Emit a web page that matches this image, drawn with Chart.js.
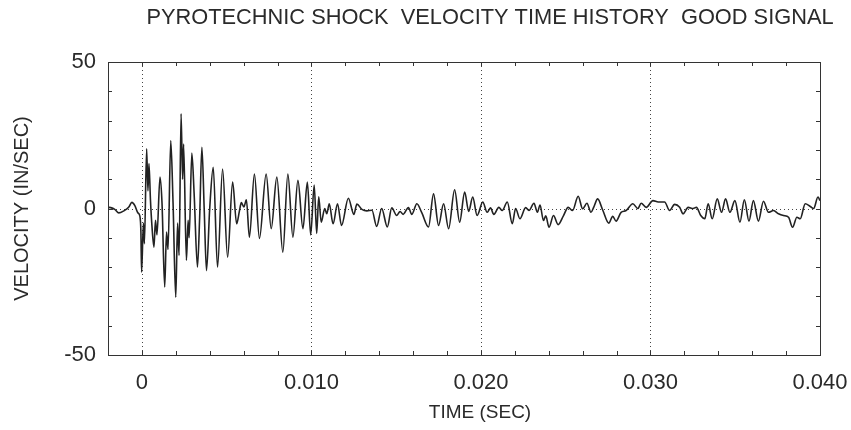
<!DOCTYPE html>
<html>
<head>
<meta charset="utf-8">
<script src="https://cdn.jsdelivr.net/npm/chart.js@4/dist/chart.umd.min.js"></script>
<style>
    html, body { margin: 0; padding: 0; background: #fff; }
    #wrap { width: 851px; height: 430px; }
</style>
</head>
<body>
<div id="wrap"><canvas id="grafico"></canvas></div>
<script>
// Tempo (s) e velocidade (in/sec)
const timeSec = [
    -0.002000, -0.001837, -0.001600, -0.001363, -0.001067, -0.000770, -0.000593, -0.000415, -0.000237, -0.000119,
    -0.000059, -0.000018, 0.000089, 0.000148, 0.000279, 0.000356, 0.000415, 0.000504, 0.000593, 0.000711,
    0.000800, 0.000889, 0.001067, 0.001185, 0.001345, 0.001452, 0.001541, 0.001701, 0.001837, 0.001997,
    0.002104, 0.002193, 0.002311, 0.002400, 0.002459, 0.002625, 0.002726, 0.002785, 0.002945, 0.003081,
    0.003277, 0.003407, 0.003538, 0.003674, 0.003810, 0.004000, 0.004207, 0.004462, 0.004759, 0.005055,
    0.005351, 0.005588, 0.005748, 0.005867, 0.006015, 0.006163, 0.006341, 0.006637, 0.006933, 0.007330,
    0.007627, 0.007959, 0.008314, 0.008610, 0.008907, 0.009203, 0.009499, 0.009760, 0.009956, 0.010163,
    0.010311, 0.010430, 0.010578, 0.010785, 0.010904, 0.011052, 0.011277, 0.011538, 0.011775, 0.012178,
    0.012504, 0.012681, 0.012978, 0.013274, 0.013570, 0.013849, 0.014145, 0.014477, 0.014738, 0.015034,
    0.015230, 0.015407, 0.015721, 0.015923, 0.016219, 0.016515, 0.016907, 0.017203, 0.017499, 0.017796,
    0.018092, 0.018447, 0.018744, 0.019040, 0.019277, 0.019514, 0.019775, 0.020107, 0.020367, 0.020563,
    0.020759, 0.021055, 0.021256, 0.021553, 0.021849, 0.022044, 0.022299, 0.022637, 0.022833, 0.023129,
    0.023330, 0.023485, 0.023686, 0.023822, 0.024018, 0.024278, 0.024551, 0.024871, 0.025144, 0.025404,
    0.025736, 0.025997, 0.026252, 0.026489, 0.026649, 0.026886, 0.027182, 0.027538, 0.027775, 0.027970,
    0.028267, 0.028563, 0.028960, 0.029256, 0.029452, 0.029748, 0.030145, 0.030459, 0.030833, 0.031129,
    0.031425, 0.031721, 0.031923, 0.032219, 0.032515, 0.032711, 0.032966, 0.033203, 0.033404, 0.033641,
    0.033938, 0.034193, 0.034430, 0.034685, 0.034981, 0.035277, 0.035538, 0.035810, 0.036071, 0.036367,
    0.036664, 0.036960, 0.037256, 0.037553, 0.037849, 0.038145, 0.038382, 0.038637, 0.038833, 0.039130,
    0.039425, 0.039627, 0.039881, 0.040000
];

const velocity = [
    0.4, 0.3, -0.3, -1.5, -0.8, 0.5, 2.1, 1.0, -1.5, -2.6,
    -8, -21.7, -5, -12, 20.4, 6, 15.3, 3, -6, -13.2,
    -4, -9, 10.7, 2, -26.8, -8, -14, 23.2, 2, -30.3,
    -5, -16, 32.3, 10, 22, -17.7, -4, -10, 18.9, 5,
    -20, -3, 20.9, 0, -21.2, 0, 14.1, -20, 13.5, -16.6,
    9, -5.2, -1, 2, 0.5, 3, -9.8, 11.8, -10.2, 11.8,
    -6.9, 10.7, -14.9, 11.8, -9.8, 9.6, -6.9, 9, -9, 8,
    -8.5, 4, -4.7, 0, -1.8, 1.6, -5.2, 1.6, -5.8, 3.5,
    -2, 1.5, -0.3, -0.8, -0.6, -6.1, 0, -6.3, 0.2, -2.4,
    -1, -2, 0.3, -2, 1.6, -1.5, -6.3, 5, -5.8, 1.6,
    -6.9, 6.4, -4.7, 5.6, -1, 3.9, -2.4, 2.2, -1.3, 0.2,
    -2, 0.4, -0.7, 2.2, -5.2, 0, -3.5, 0.3, -0.7, 1.8,
    -1.3, 1.2, -4.1, -2.5, -6.4, -2.4, -5.5, -2.4, 0.4, -0.7,
    4.2, -0.1, 1.8, -1.3, 0.4, 3.3, -0.5, -5, -2.7, -4.3,
    -1.3, -0.7, 1.6, 0, 1.8, 0.4, 2.7, 2.2, 2.2, -0.7,
    1.4, 0.4, -1.8, 0.4, 0, 0.4, -2.4, -3.5, 1.6, -3.5,
    3.3, -1.3, 3.3, -1.3, 2.7, -4.7, 3, -4.3, 2.7, -4.3,
    2.5, -1.3, -0.7, -1.8, -2.4, -3, -6.4, -3, -3.5, 1.6,
    0.7, 0, 3.9, 2.7
];

// Marcas dos eixos
const xTickValues = [0, 0.010, 0.020, 0.030, 0.040];
const xTickLabels = ['0', '0.010', '0.020', '0.030', '0.040'];
const yTickValues = [-50, 0, 50];
const yTickLabels = ['-50', '0', '50'];
const xGridValues = [0, 0.010, 0.020, 0.030];
const yGridValues = [0];

const fonte = "'Liberation Sans', Arial, sans-serif";
const corTexto = '#2a2a2a';

// Título e rótulo do eixo X desenhados à mão (deslocados como no original)
const textosPlugin = {
    id: 'textos',
    afterDraw(chart) {
        const ctx = chart.ctx;
        ctx.save();
        ctx.fillStyle = corTexto;
        ctx.textAlign = 'center';
        ctx.textBaseline = 'middle';
        ctx.font = '21.8px ' + fonte;
        ctx.fillText('PYROTECHNIC SHOCK  VELOCITY TIME HISTORY  GOOD SIGNAL', 490, 18);
        ctx.font = '19px ' + fonte;
        ctx.fillText('TIME (SEC)', 480, 413);
        ctx.restore();
    }
};

// Moldura, grade pontilhada e pequenas marcas internas
const molduraPlugin = {
    id: 'moldura',
    beforeDatasetsDraw(chart) {
        const {ctx, chartArea: a, scales: {x, y}} = chart;
        ctx.save();
        ctx.strokeStyle = '#444';
        ctx.lineWidth = 1;
        ctx.setLineDash([1, 3]);
        xGridValues.forEach(v => {
            const px = Math.round(x.getPixelForValue(v)) + 0.5;
            ctx.beginPath();
            ctx.moveTo(px, a.top);
            ctx.lineTo(px, a.bottom);
            ctx.stroke();
        });
        yGridValues.forEach(v => {
            const py = Math.round(y.getPixelForValue(v)) + 0.5;
            ctx.beginPath();
            ctx.moveTo(a.left, py);
            ctx.lineTo(a.right, py);
            ctx.stroke();
        });
        ctx.restore();
    },
    afterDatasetsDraw(chart) {
        const {ctx, chartArea: a, scales: {x, y}} = chart;
        ctx.save();
        ctx.strokeStyle = '#333';
        ctx.lineWidth = 1;
        ctx.strokeRect(Math.round(a.left) + 0.5, Math.round(a.top) + 0.5,
            Math.round(a.right - a.left), Math.round(a.bottom - a.top));
        ctx.beginPath();
        for (let i = -1; i <= 20; i++) {
            const px = Math.round(x.getPixelForValue(i * 0.002)) + 0.5;
            ctx.moveTo(px, a.top); ctx.lineTo(px, a.top + 4);
            ctx.moveTo(px, a.bottom); ctx.lineTo(px, a.bottom - 4);
        }
        for (let v = -40; v <= 40; v += 10) {
            const py = Math.round(y.getPixelForValue(v)) + 0.5;
            ctx.moveTo(a.left, py); ctx.lineTo(a.left + 4, py);
            ctx.moveTo(a.right, py); ctx.lineTo(a.right - 4, py);
        }
        ctx.stroke();
        ctx.restore();
    }
};

const ctx = document.getElementById('grafico').getContext('2d');
new Chart(ctx, {
    type: 'line',
    data: {
        datasets: [{
            data: timeSec.map((t, i) => ({x: t, y: velocity[i]})),
            borderColor: '#222',
            borderWidth: 1.6,
            pointRadius: 0,
            cubicInterpolationMode: 'monotone',
            fill: false
        }]
    },
    options: {
        responsive: true,
        maintainAspectRatio: false,
        animation: false,
        layout: {
            padding: { top: 62, right: 31, bottom: 0, left: 0 }
        },
        plugins: {
            legend: { display: false },
            tooltip: { enabled: false }
        },
        scales: {
            x: {
                type: 'linear',
                min: -0.002,
                max: 0.040,
                afterBuildTicks: s => { s.ticks = xTickValues.map(v => ({value: v})); },
                afterFit: s => {
                    s.height = 75;
                    s.paddingLeft = 0;
                    s.paddingRight = 0;
                },
                ticks: {
                    callback: (v, i) => xTickLabels[i],
                    color: corTexto,
                    font: { family: fonte, size: 22 },
                    padding: 15,
                    maxRotation: 0,
                    autoSkip: false
                },
                grid: { display: false, drawTicks: false, tickLength: 0 },
                border: { display: false }
            },
            y: {
                type: 'linear',
                min: -50,
                max: 50,
                afterBuildTicks: s => { s.ticks = yTickValues.map(v => ({value: v})); },
                afterFit: s => {
                    s.width = 108;
                    s.paddingTop = 0;
                    s.paddingBottom = 0;
                },
                ticks: {
                    callback: (v, i) => yTickLabels[i],
                    color: corTexto,
                    font: { family: fonte, size: 22 },
                    padding: 12
                },
                grid: { display: false, drawTicks: false, tickLength: 0 },
                border: { display: false },
                title: {
                    display: true,
                    text: 'VELOCITY (IN/SEC)',
                    color: corTexto,
                    font: { family: fonte, size: 20 },
                    padding: { top: 10, bottom: 0 }
                }
            }
        }
    },
    plugins: [textosPlugin, molduraPlugin]
});
</script>
</body>
</html>
